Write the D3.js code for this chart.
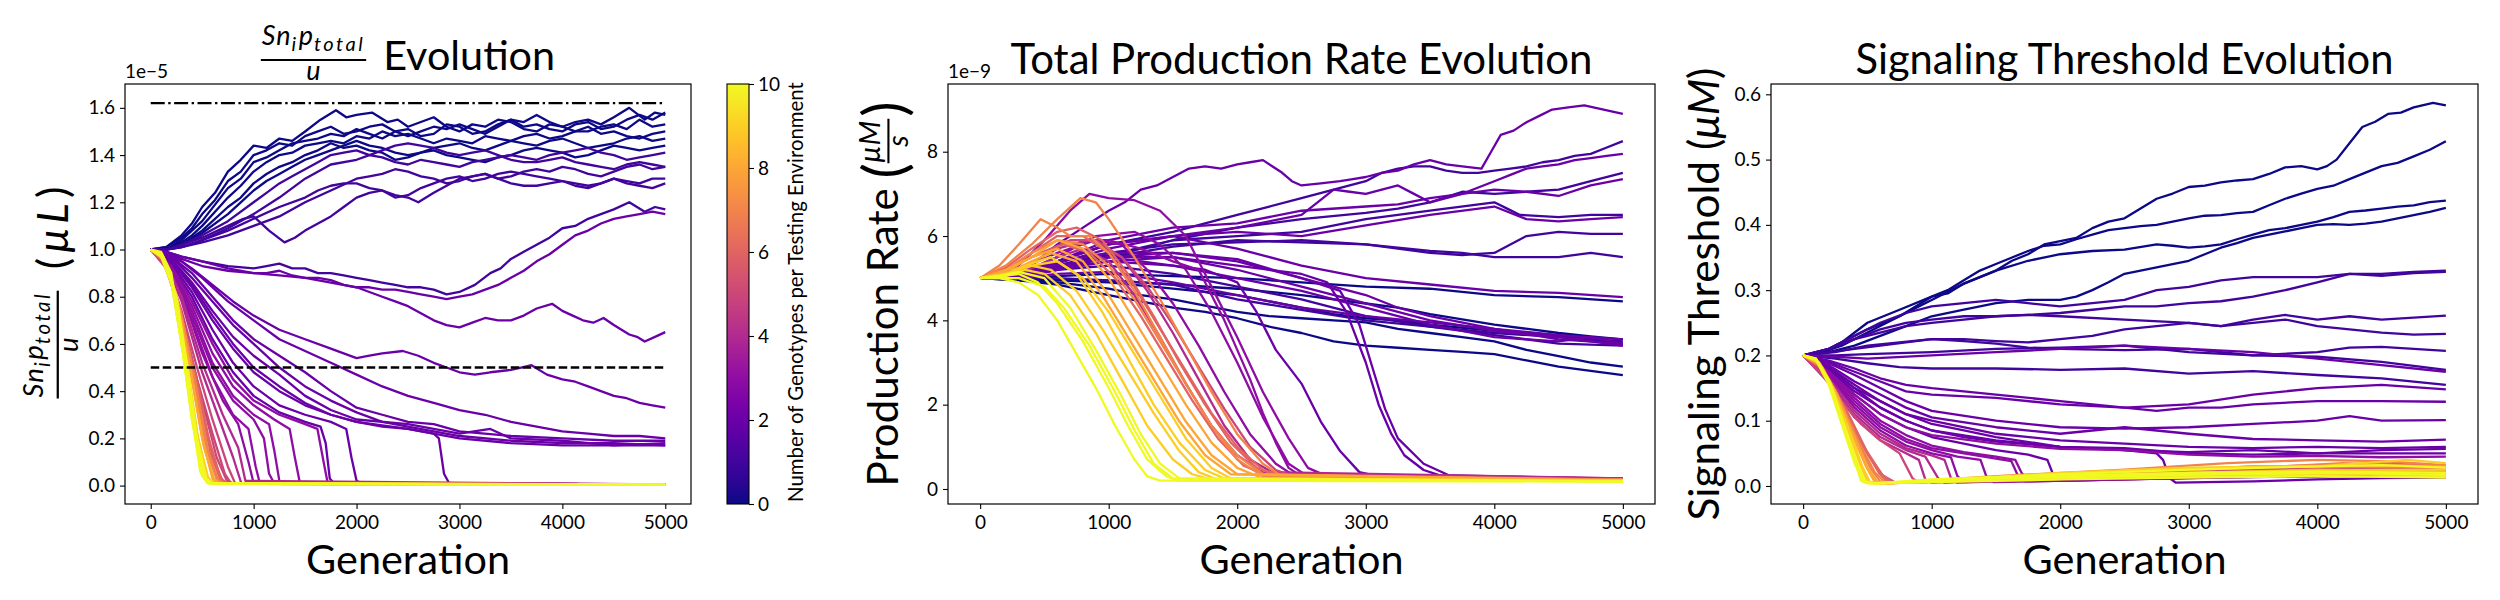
<!DOCTYPE html>
<html>
<head>
<meta charset="utf-8">
<script src="https://cdn.jsdelivr.net/npm/d3@7"></script>
<style>
  body { margin: 0; background: #fff; }
  svg { display: block; }
</style>
</head>
<body>
<div id="chart"></div>
<script>
// shared ticks
const generationTicks = [0, 1000, 2000, 3000, 4000, 5000];
const ratioTicks = [0, 0.2, 0.4, 0.6, 0.8, 1.0, 1.2, 1.4, 1.6];
const rateTicks = [0, 2, 4, 6, 8];
const thresholdTicks = [0, 0.1, 0.2, 0.3, 0.4, 0.5, 0.6];
const colorbarTicks = [0, 2, 4, 6, 8, 10];
const ratioUpperRef = 1.62;
const ratioLowerRef = 0.5;

// each run: [genotypes per testing environment, [[generation, value], ...]]
// panel 1: Sn_i p_total / u, in units of 1e-5
const ratioRuns = [
  [0, [[0,1.0],[150,1.01],[300,1.06],[400,1.11],[500,1.18],[625,1.24],[750,1.33],[875,1.38],[1000,1.44],[1125,1.43],[1250,1.47],[1375,1.46],[1500,1.5],[1650,1.55],[1800,1.59],[1900,1.56],[2000,1.57],[2150,1.58],[2300,1.54],[2400,1.55],[2500,1.52],[2625,1.54],[2750,1.56],[2875,1.52],[3000,1.5],[3125,1.53],[3250,1.52],[3375,1.55],[3500,1.54],[3625,1.51],[3750,1.5],[3875,1.53],[4000,1.52],[4125,1.54],[4250,1.55],[4375,1.53],[4500,1.56],[4650,1.6],[4800,1.55],[4900,1.58],[5000,1.57]]],
  [0, [[0,1.0],[150,1.01],[300,1.05],[400,1.09],[500,1.15],[625,1.21],[750,1.29],[875,1.33],[1000,1.4],[1125,1.42],[1250,1.45],[1375,1.44],[1500,1.48],[1625,1.5],[1750,1.52],[1875,1.49],[2000,1.5],[2125,1.52],[2250,1.53],[2375,1.5],[2500,1.51],[2625,1.48],[2750,1.49],[2875,1.53],[3000,1.52],[3125,1.49],[3250,1.5],[3375,1.53],[3500,1.55],[3625,1.52],[3750,1.53],[3875,1.51],[4000,1.5],[4125,1.53],[4250,1.54],[4375,1.51],[4500,1.52],[4625,1.55],[4750,1.57],[4875,1.55],[5000,1.58]]],
  [0, [[0,1.0],[150,1.0],[300,1.04],[400,1.08],[500,1.12],[625,1.19],[750,1.26],[875,1.3],[1000,1.37],[1125,1.39],[1250,1.42],[1375,1.45],[1500,1.46],[1625,1.47],[1750,1.49],[1875,1.48],[2000,1.51],[2125,1.49],[2250,1.47],[2375,1.5],[2500,1.48],[2625,1.5],[2750,1.52],[2875,1.51],[3000,1.53],[3125,1.51],[3250,1.49],[3375,1.52],[3500,1.55],[3625,1.54],[3750,1.57],[3875,1.54],[4000,1.52],[4125,1.5],[4250,1.5],[4375,1.52],[4500,1.53],[4625,1.51],[4750,1.55],[4875,1.52],[5000,1.53]]],
  [0, [[0,1.0],[150,1.0],[300,1.03],[400,1.06],[500,1.1],[625,1.16],[750,1.22],[875,1.27],[1000,1.33],[1125,1.37],[1250,1.4],[1375,1.41],[1500,1.44],[1625,1.45],[1750,1.46],[1875,1.45],[2000,1.48],[2125,1.47],[2250,1.5],[2375,1.48],[2500,1.49],[2625,1.47],[2750,1.45],[2875,1.47],[3000,1.46],[3125,1.45],[3250,1.48],[3375,1.47],[3500,1.46],[3625,1.48],[3750,1.49],[3875,1.47],[4000,1.48],[4125,1.5],[4250,1.52],[4375,1.49],[4500,1.5],[4625,1.48],[4750,1.47],[4875,1.49],[5000,1.5]]],
  [0, [[0,1.0],[150,1.0],[300,1.02],[500,1.08],[750,1.18],[875,1.22],[1000,1.28],[1125,1.32],[1250,1.35],[1375,1.37],[1500,1.4],[1625,1.42],[1750,1.45],[1875,1.43],[2000,1.44],[2125,1.42],[2250,1.41],[2375,1.38],[2500,1.39],[2625,1.41],[2750,1.43],[2875,1.44],[3000,1.45],[3125,1.43],[3250,1.42],[3375,1.44],[3500,1.46],[3625,1.45],[3750,1.44],[3875,1.46],[4000,1.47],[4125,1.45],[4250,1.43],[4375,1.44],[4500,1.45],[4625,1.47],[4750,1.48],[4875,1.46],[5000,1.47]]],
  [0, [[0,1.0],[150,1.0],[300,1.02],[500,1.07],[750,1.15],[875,1.2],[1000,1.25],[1125,1.29],[1250,1.32],[1375,1.35],[1500,1.38],[1625,1.4],[1750,1.42],[1875,1.44],[2000,1.46],[2125,1.44],[2250,1.43],[2375,1.41],[2500,1.4],[2625,1.41],[2750,1.42],[2875,1.4],[3000,1.39],[3125,1.38],[3250,1.37],[3375,1.39],[3500,1.4],[3625,1.42],[3750,1.43],[3875,1.42],[4000,1.41],[4125,1.39],[4250,1.4],[4375,1.42],[4500,1.44],[4625,1.43],[4750,1.42],[4875,1.43],[5000,1.44]]],
  [1, [[0,1.0],[150,1.0],[300,1.02],[500,1.06],[750,1.12],[1000,1.2],[1125,1.24],[1250,1.28],[1375,1.31],[1500,1.34],[1625,1.37],[1750,1.4],[1875,1.41],[2000,1.42],[2125,1.4],[2250,1.39],[2375,1.37],[2500,1.36],[2625,1.38],[2750,1.37],[2875,1.36],[3000,1.35],[3125,1.37],[3250,1.38],[3375,1.39],[3500,1.4],[3625,1.39],[3750,1.38],[3875,1.4],[4000,1.41],[4125,1.42],[4250,1.43],[4375,1.41],[4500,1.4],[4625,1.38],[4750,1.39],[4875,1.4],[5000,1.41]]],
  [1, [[0,1.0],[150,1.0],[300,1.02],[500,1.05],[750,1.1],[900,1.13],[1000,1.14],[1150,1.08],[1300,1.03],[1400,1.05],[1500,1.08],[1625,1.11],[1750,1.14],[1875,1.18],[2000,1.22],[2125,1.24],[2250,1.25],[2375,1.22],[2500,1.23],[2625,1.26],[2750,1.28],[2875,1.3],[3000,1.31],[3125,1.29],[3250,1.3],[3375,1.32],[3500,1.33],[3625,1.32],[3750,1.31],[3875,1.3],[4000,1.29],[4125,1.28],[4250,1.27],[4375,1.28],[4500,1.3],[4625,1.29],[4750,1.28],[4875,1.3],[5000,1.3]]],
  [1, [[0,1.0],[150,1.0],[300,1.01],[500,1.04],[750,1.08],[1000,1.13],[1250,1.18],[1500,1.22],[1625,1.25],[1750,1.27],[1875,1.28],[2000,1.28],[2125,1.26],[2250,1.25],[2375,1.23],[2500,1.22],[2600,1.2],[2750,1.24],[2875,1.27],[3000,1.3],[3125,1.31],[3250,1.32],[3375,1.3],[3500,1.31],[3625,1.33],[3750,1.34],[3875,1.33],[4000,1.35],[4125,1.34],[4250,1.32],[4375,1.31],[4500,1.33],[4625,1.35],[4750,1.36],[4875,1.34],[5000,1.35]]],
  [1, [[0,1.0],[150,1.0],[300,1.01],[500,1.03],[750,1.06],[1000,1.1],[1250,1.14],[1500,1.2],[1750,1.25],[2000,1.3],[2125,1.31],[2250,1.32],[2375,1.34],[2500,1.33],[2625,1.31],[2750,1.3],[2875,1.28],[3000,1.29],[3125,1.31],[3250,1.32],[3375,1.3],[3500,1.28],[3625,1.27],[3750,1.27],[3875,1.28],[4000,1.29],[4125,1.27],[4250,1.26],[4375,1.28],[4500,1.3],[4625,1.28],[4750,1.27],[4875,1.26],[5000,1.28]]],
  [1, [[0,1.0],[150,1.0],[300,1.01],[500,1.04],[750,1.09],[1000,1.15],[1250,1.22],[1500,1.3],[1750,1.36],[2000,1.38],[2125,1.4],[2250,1.42],[2375,1.44],[2500,1.45],[2625,1.44],[2750,1.43],[2875,1.41],[3000,1.4],[3125,1.41],[3250,1.42],[3375,1.4],[3500,1.38],[3625,1.37],[3750,1.37],[3875,1.38],[4000,1.39],[4125,1.37],[4250,1.36],[4375,1.35],[4500,1.34],[4625,1.36],[4750,1.37],[4875,1.36],[5000,1.35]]],
  [1, [[0,1.0],[150,0.99],[300,0.97],[500,0.95],[750,0.93],[1000,0.92],[1125,0.93],[1250,0.94],[1375,0.92],[1500,0.92],[1625,0.9],[1750,0.9],[1875,0.89],[2000,0.88],[2125,0.87],[2250,0.86],[2375,0.85],[2500,0.84],[2625,0.84],[2750,0.83],[2875,0.81],[3000,0.82],[3150,0.85],[3300,0.9],[3400,0.92],[3500,0.96],[3625,0.99],[3750,1.02],[3875,1.05],[4000,1.09],[4125,1.1],[4250,1.13],[4375,1.15],[4500,1.17],[4650,1.2],[4800,1.16],[4900,1.18],[5000,1.17]]],
  [2, [[0,1.0],[150,0.99],[300,0.97],[500,0.95],[750,0.92],[1000,0.9],[1125,0.9],[1250,0.91],[1375,0.89],[1500,0.88],[1625,0.88],[1750,0.87],[1875,0.85],[2000,0.84],[2125,0.84],[2250,0.83],[2375,0.83],[2500,0.82],[2625,0.81],[2750,0.8],[2875,0.79],[3000,0.8],[3125,0.81],[3250,0.83],[3375,0.85],[3500,0.88],[3625,0.91],[3750,0.95],[3875,0.98],[4000,1.02],[4125,1.06],[4250,1.08],[4375,1.11],[4500,1.13],[4625,1.14],[4750,1.15],[4875,1.16],[5000,1.15]]],
  [2, [[0,1.0],[150,0.99],[300,0.96],[500,0.93],[750,0.91],[1000,0.9],[1250,0.89],[1500,0.88],[1750,0.86],[2000,0.84],[2125,0.82],[2250,0.8],[2375,0.78],[2500,0.76],[2625,0.73],[2750,0.7],[2875,0.68],[3000,0.67],[3125,0.69],[3250,0.71],[3375,0.7],[3500,0.7],[3625,0.72],[3750,0.75],[3900,0.77],[4000,0.74],[4100,0.72],[4200,0.7],[4300,0.69],[4400,0.71],[4500,0.68],[4575,0.66],[4650,0.64],[4725,0.63],[4800,0.61],[4900,0.63],[5000,0.65]]],
  [2, [[0,1.0],[200,0.98],[400,0.92],[600,0.85],[800,0.78],[1000,0.72],[1250,0.66],[1500,0.62],[1750,0.58],[2000,0.54],[2125,0.55],[2250,0.56],[2450,0.57],[2600,0.55],[2750,0.52],[2875,0.5],[3000,0.48],[3150,0.47],[3300,0.48],[3500,0.49],[3600,0.5],[3700,0.51],[3850,0.47],[4000,0.45],[4125,0.44],[4250,0.42],[4375,0.4],[4500,0.38],[4625,0.37],[4750,0.35],[4875,0.34],[5000,0.33]]],
  [2, [[0,1.0],[300,0.95],[500,0.88],[750,0.78],[1000,0.7],[1250,0.62],[1500,0.57],[1750,0.52],[2000,0.47],[2250,0.42],[2500,0.38],[2750,0.35],[3000,0.32],[3250,0.3],[3500,0.27],[3750,0.25],[4000,0.23],[4250,0.22],[4500,0.21],[4750,0.21],[5000,0.2]]],
  [2, [[0,1.0],[200,0.97],[400,0.88],[600,0.78],[800,0.68],[1000,0.6],[1250,0.5],[1500,0.42],[1750,0.36],[2000,0.31],[2250,0.27],[2500,0.25],[2750,0.23],[3000,0.21],[3500,0.19],[4000,0.18],[4500,0.18],[5000,0.17]]],
  [2, [[0,1.0],[200,0.96],[400,0.86],[600,0.74],[800,0.63],[1000,0.55],[1250,0.47],[1500,0.38],[1750,0.32],[2000,0.28],[2500,0.26],[3000,0.22],[3300,0.24],[3500,0.2],[4000,0.19],[4500,0.17],[5000,0.18]]],
  [2, [[0,1.0],[200,0.97],[400,0.9],[600,0.8],[800,0.7],[1000,0.62],[1250,0.55],[1500,0.48],[1750,0.4],[2000,0.33],[2250,0.3],[2500,0.27],[2750,0.26],[3000,0.23],[3500,0.21],[4000,0.2],[4500,0.19],[5000,0.19]]],
  [2, [[0,1.0],[200,0.95],[400,0.85],[600,0.72],[800,0.6],[1000,0.5],[1250,0.42],[1500,0.35],[1750,0.3],[2000,0.27],[2500,0.24],[3000,0.2],[3500,0.18],[4000,0.17],[4500,0.17],[5000,0.17]]],
  [2, [[0,1.0],[200,0.95],[400,0.84],[600,0.7],[800,0.58],[1000,0.48],[1250,0.4],[1500,0.34],[1750,0.3],[2000,0.27],[2250,0.25],[2500,0.24],[2750,0.22],[2800,0.2],[2850,0.05],[2900,0.01],[5000,0.005]]],
  [2, [[0,1.0],[200,0.94],[400,0.82],[600,0.66],[800,0.52],[1000,0.42],[1250,0.34],[1500,0.3],[1750,0.27],[1900,0.24],[1950,0.12],[2000,0.02],[2050,0.01],[5000,0.005]]],
  [2, [[0,1.0],[200,0.93],[400,0.8],[600,0.62],[800,0.48],[1000,0.38],[1250,0.31],[1500,0.27],[1650,0.25],[1700,0.18],[1740,0.03],[1780,0.01],[5000,0.005]]],
  [3, [[0,1.0],[200,0.93],[400,0.78],[600,0.6],[800,0.45],[1000,0.36],[1250,0.3],[1500,0.26],[1620,0.24],[1680,0.1],[1720,0.01],[5000,0.005]]],
  [3, [[0,1.0],[200,0.92],[400,0.76],[600,0.56],[800,0.42],[1000,0.34],[1200,0.28],[1350,0.24],[1400,0.12],[1450,0.01],[5000,0.005]]],
  [3, [[0,1.0],[200,0.92],[400,0.74],[600,0.52],[800,0.38],[1000,0.3],[1150,0.26],[1200,0.15],[1250,0.02],[1300,0.01],[5000,0.005]]],
  [3, [[0,1.0],[200,0.91],[400,0.72],[600,0.5],[800,0.36],[1000,0.28],[1100,0.2],[1150,0.05],[1200,0.01],[5000,0.005]]],
  [3, [[0,1.0],[200,0.9],[400,0.7],[600,0.46],[800,0.3],[950,0.24],[1020,0.08],[1060,0.01],[5000,0.005]]],
  [3, [[0,1.0],[150,0.95],[300,0.82],[500,0.56],[700,0.36],[850,0.26],[950,0.1],[1000,0.01],[5000,0.005]]],
  [4, [[0,1.0],[150,0.94],[300,0.8],[500,0.52],[700,0.3],[850,0.16],[920,0.02],[5000,0.005]]],
  [4, [[0,1.0],[150,0.94],[300,0.78],[500,0.48],[650,0.3],[800,0.12],[880,0.01],[5000,0.004]]],
  [5, [[0,1.0],[150,0.93],[300,0.74],[450,0.5],[600,0.28],[750,0.08],[820,0.01],[5000,0.004]]],
  [5, [[0,1.0],[150,0.92],[300,0.72],[450,0.45],[600,0.22],[720,0.05],[780,0.01],[5000,0.004]]],
  [6, [[0,1.0],[100,0.97],[250,0.8],[400,0.52],[550,0.22],[680,0.03],[740,0.01],[5000,0.004]]],
  [10, [[0,1.0],[100,0.99],[200,0.9],[300,0.62],[400,0.3],[480,0.06],[550,0.01],[5000,0.003]]],
  [10, [[0,1.0],[100,0.98],[200,0.88],[300,0.6],[400,0.28],[500,0.05],[560,0.01],[5000,0.004]]],
  [9, [[0,1.0],[100,0.98],[200,0.86],[320,0.55],[420,0.25],[520,0.04],[580,0.01],[5000,0.003]]],
  [9, [[0,1.0],[120,0.97],[220,0.84],[340,0.52],[450,0.22],[550,0.04],[600,0.01],[5000,0.004]]],
  [10, [[0,1.0],[100,0.97],[250,0.8],[350,0.52],[450,0.2],[540,0.03],[600,0.008],[5000,0.003]]],
  [8, [[0,1.0],[120,0.97],[250,0.78],[380,0.5],[500,0.2],[600,0.03],[650,0.008],[5000,0.004]]],
  [8, [[0,1.0],[130,0.96],[270,0.76],[400,0.46],[520,0.16],[620,0.02],[680,0.008],[5000,0.004]]],
  [7, [[0,1.0],[130,0.96],[280,0.74],[420,0.45],[540,0.16],[640,0.03],[700,0.01],[5000,0.005]]],
  [9, [[0,1.0],[110,0.97],[240,0.82],[360,0.5],[460,0.2],[560,0.03],[620,0.01],[5000,0.003]]],
  [7, [[0,1.0],[140,0.95],[300,0.72],[440,0.42],[560,0.14],[660,0.02],[720,0.008],[5000,0.005]]],
  [6, [[0,1.0],[140,0.95],[300,0.7],[460,0.4],[580,0.14],[680,0.02],[740,0.01],[5000,0.005]]],
  [10, [[0,1.0],[100,0.98],[200,0.87],[310,0.57],[410,0.26],[500,0.04],[570,0.008],[5000,0.003]]],
  [9, [[0,1.0],[110,0.98],[230,0.83],[350,0.5],[450,0.22],[540,0.04],[600,0.008],[5000,0.003]]],
  [8, [[0,1.0],[120,0.96],[260,0.79],[390,0.48],[510,0.18],[610,0.03],[670,0.008],[5000,0.004]]],
  [6, [[0,1.0],[150,0.94],[320,0.68],[480,0.38],[600,0.12],[700,0.02],[760,0.008],[5000,0.005]]],
  [7, [[0,1.0],[130,0.96],[290,0.74],[430,0.44],[550,0.15],[650,0.02],[710,0.008],[5000,0.004]]],
  [5, [[0,1.0],[150,0.94],[330,0.66],[500,0.36],[640,0.12],[740,0.02],[800,0.01],[5000,0.005]]],
  [10, [[0,1.0],[100,0.98],[210,0.86],[330,0.52],[430,0.22],[520,0.03],[580,0.008],[5000,0.003]]]
];

// panel 2: total production rate, in units of 1e-9
const rateRuns = [
  [0, [[0,5],[300,4.95],[600,4.85],[1000,4.6],[1250,4.45],[1500,4.3],[1750,4.2],[2000,4.05],[2250,3.85],[2500,3.7],[2750,3.5],[3000,3.4],[3250,3.35],[3500,3.3],[3750,3.25],[4000,3.2],[4250,3.05],[4500,2.9],[4750,2.8],[5000,2.7]]],
  [0, [[0,5],[300,4.95],[600,4.9],[1000,4.75],[1250,4.6],[1500,4.5],[1750,4.35],[2000,4.2],[2250,4.1],[2500,4.05],[2750,4.0],[3000,3.95],[3250,3.8],[3500,3.7],[3750,3.6],[4000,3.5],[4250,3.3],[4500,3.15],[4750,3.0],[5000,2.9]]],
  [0, [[0,5],[300,4.98],[600,4.95],[1000,4.9],[1500,4.75],[2000,4.6],[2250,4.45],[2500,4.3],[2750,4.15],[3000,4.05],[3250,4.0],[3500,3.9],[4000,3.75],[4500,3.65],[4750,3.55],[5000,3.45]]],
  [0, [[0,5],[300,4.98],[600,4.96],[1000,4.95],[1500,4.85],[2000,4.75],[2500,4.6],[3000,4.4],[3250,4.3],[3500,4.15],[4000,3.9],[4500,3.7],[4750,3.62],[5000,3.55]]],
  [0, [[0,5],[300,5.0],[600,5.05],[1000,5.1],[1500,5.05],[2000,5.0],[2500,4.9],[3000,4.8],[3500,4.75],[4000,4.6],[4500,4.55],[5000,4.45]]],
  [2, [[0,5],[200,5.05],[400,5.3],[600,5.8],[800,6.2],[1000,6.6],[1125,6.8],[1250,7.1],[1375,7.2],[1500,7.4],[1625,7.6],[1750,7.65],[1875,7.6],[2000,7.7],[2100,7.75],[2200,7.8],[2275,7.65],[2350,7.5],[2425,7.3],[2500,7.2],[2650,7.25],[2800,7.3],[2900,7.35],[3000,7.4],[3125,7.5],[3250,7.55],[3375,7.7],[3500,7.8],[3625,7.7],[3750,7.65],[3900,7.6],[3975,8.0],[4050,8.4],[4150,8.5],[4250,8.7],[4350,8.85],[4450,9.0],[4575,9.05],[4700,9.1],[4850,9.0],[5000,8.9]]],
  [1, [[0,5],[300,5.1],[600,5.4],[1000,5.8],[1250,5.95],[1500,6.1],[1750,6.3],[2000,6.5],[2250,6.7],[2500,6.9],[2750,7.1],[3000,7.3],[3125,7.5],[3250,7.6],[3375,7.65],[3500,7.65],[3625,7.55],[3750,7.5],[3875,7.5],[4000,7.55],[4125,7.6],[4250,7.65],[4375,7.75],[4500,7.8],[4625,7.9],[4750,7.95],[4875,8.1],[5000,8.25]]],
  [2, [[0,5],[300,5.1],[600,5.35],[1000,5.7],[1250,5.85],[1500,6.0],[1750,6.1],[2000,6.2],[2250,6.35],[2500,6.5],[2625,6.8],[2750,7.1],[2875,7.05],[3000,7.0],[3125,7.1],[3250,7.2],[3375,7.0],[3500,6.8],[3625,6.9],[3750,7.0],[3875,7.15],[4000,7.3],[4125,7.45],[4250,7.6],[4375,7.65],[4500,7.7],[4625,7.8],[4750,7.85],[4875,7.9],[5000,7.95]]],
  [1, [[0,5],[300,5.05],[600,5.3],[1000,5.55],[1500,5.9],[2000,6.2],[2500,6.4],[3000,6.55],[3250,6.65],[3500,6.8],[3750,7.05],[4000,7.0],[4250,7.05],[4500,7.1],[4750,7.3],[5000,7.5]]],
  [2, [[0,5],[300,5.1],[600,5.4],[1000,5.9],[1500,6.2],[2000,6.3],[2500,6.6],[3000,6.7],[3250,6.75],[3500,6.9],[4000,7.1],[4250,7.05],[4500,6.95],[4750,7.2],[5000,7.35]]],
  [1, [[0,5],[300,5.05],[600,5.2],[1000,5.5],[1500,5.9],[2000,6.0],[2500,6.1],[3000,6.4],[3500,6.6],[4000,6.8],[4100,6.65],[4200,6.5],[4500,6.45],[4750,6.5],[5000,6.5]]],
  [2, [[0,5],[300,5.1],[600,5.4],[1000,5.8],[1500,6.0],[2000,6.1],[2500,6.0],[3000,6.25],[3500,6.5],[4000,6.7],[4250,6.4],[4500,6.35],[4750,6.4],[5000,6.45]]],
  [1, [[0,5],[300,5.05],[600,5.3],[1000,5.6],[1500,5.8],[2000,5.85],[2500,5.9],[3000,5.8],[3500,5.6],[3750,5.55],[4000,5.6],[4250,6.0],[4500,6.1],[4750,6.05],[5000,6.05]]],
  [1, [[0,5],[300,5.05],[600,5.25],[1000,5.5],[1500,5.75],[2000,5.9],[2500,5.85],[3000,5.8],[3500,5.65],[3750,5.6],[4000,5.5],[4500,5.5],[4750,5.6],[5000,5.5]]],
  [2, [[0,5],[300,5.1],[600,5.4],[1000,5.8],[1500,6.0],[2000,5.7],[2500,5.3],[3000,5.0],[3500,4.85],[4000,4.7],[4500,4.65],[5000,4.55]]],
  [1, [[0,5],[300,5.05],[600,5.2],[1000,5.3],[1500,5.1],[2000,4.8],[2500,4.5],[3000,4.1],[3500,3.85],[4000,3.7],[4500,3.6],[5000,3.5]]],
  [2, [[0,5],[300,5.0],[600,5.1],[1000,5.15],[1500,4.9],[2000,4.6],[2500,4.3],[3000,4.1],[3500,3.95],[4000,3.8],[4500,3.55],[5000,3.45]]],
  [2, [[0,5],[300,5.05],[600,5.3],[1000,5.5],[1500,5.5],[2000,5.2],[2500,4.8],[3000,4.4],[3500,4.0],[4000,3.75],[4500,3.6],[5000,3.4]]],
  [2, [[0,5],[300,5.1],[600,5.4],[1000,5.6],[1500,5.6],[2000,5.4],[2500,5.0],[3000,4.6],[3250,4.3],[3500,4.1],[4000,3.8],[4500,3.65],[5000,3.55]]],
  [1, [[0,5],[300,5.0],[600,5.0],[1000,4.95],[1500,4.85],[2000,4.5],[2500,4.25],[3000,4.0],[3500,3.85],[4000,3.65],[4500,3.45],[5000,3.4]]],
  [2, [[0,5],[300,5.05],[600,5.25],[1000,5.4],[1500,5.3],[2000,5.0],[2500,4.7],[3000,4.3],[3500,3.9],[4000,3.6],[4500,3.5],[4750,3.6],[5000,3.45]]],
  [3, [[0,5],[300,5.1],[600,5.5],[800,5.9],[1000,5.9],[1250,5.7],[1500,5.4],[1700,5.2],[1800,4.6],[1900,4.0],[2000,3.3],[2100,2.6],[2200,1.8],[2300,1.1],[2400,0.5],[2500,0.3],[5000,0.25]]],
  [2, [[0,5],[300,5.05],[600,5.3],[1000,5.5],[1500,5.3],[1750,5.2],[2000,4.9],[2150,4.2],[2300,3.3],[2500,2.5],[2650,1.6],[2800,0.9],[2950,0.4],[3100,0.3],[5000,0.22]]],
  [2, [[0,5],[300,5.0],[600,5.2],[1000,5.4],[1500,5.5],[2000,5.3],[2500,5.1],[2700,4.9],[2850,4.2],[3000,3.0],[3100,2.0],[3200,1.3],[3300,0.8],[3450,0.45],[3600,0.3],[5000,0.22]]],
  [2, [[0,5],[300,5.05],[600,5.25],[1000,5.5],[1500,5.6],[2000,5.45],[2500,5.0],[2800,4.7],[2950,3.9],[3050,2.9],[3150,1.9],[3250,1.2],[3450,0.6],[3650,0.32],[5000,0.24]]],
  [3, [[0,5],[300,5.1],[600,5.5],[900,6.0],[1200,6.1],[1400,5.8],[1600,5.2],[1800,4.2],[2000,3.0],[2200,1.7],[2400,0.6],[2550,0.3],[5000,0.25]]],
  [3, [[0,5],[300,5.3],[500,5.9],[700,6.6],[850,7.0],[1000,6.9],[1200,6.85],[1400,6.6],[1600,6.0],[1800,4.8],[2000,3.6],[2200,2.3],[2400,1.2],[2550,0.5],[2700,0.3],[5000,0.25]]],
  [3, [[0,5],[300,5.2],[600,5.6],[900,5.9],[1100,5.8],[1300,5.2],[1500,4.4],[1700,3.4],[1900,2.3],[2100,1.3],[2300,0.6],[2450,0.3],[5000,0.25]]],
  [4, [[0,5],[300,5.2],[600,5.7],[850,5.9],[1100,5.5],[1300,4.7],[1500,3.7],[1700,2.6],[1900,1.5],[2100,0.7],[2300,0.35],[5000,0.25]]],
  [4, [[0,5],[300,5.1],[600,5.5],[800,5.7],[1000,5.4],[1200,4.6],[1400,3.6],[1600,2.5],[1800,1.5],[2000,0.8],[2200,0.4],[5000,0.25]]],
  [7, [[0,5],[200,5.3],[400,5.8],[600,6.4],[780,6.9],[900,6.8],[1000,6.4],[1200,5.5],[1400,4.5],[1600,3.4],[1800,2.3],[2000,1.3],[2200,0.6],[2350,0.3],[5000,0.22]]],
  [7, [[0,5],[150,5.3],[300,5.8],[470,6.4],[600,6.2],[700,6.0],[850,6.0],[1000,5.6],[1200,4.7],[1400,3.6],[1600,2.5],[1800,1.5],[2000,0.7],[2200,0.3],[5000,0.2]]],
  [6, [[0,5],[200,5.2],[400,5.6],[600,6.0],[800,6.0],[1000,5.6],[1200,4.8],[1400,3.8],[1600,2.8],[1800,1.8],[2000,1.0],[2200,0.45],[2400,0.28],[5000,0.22]]],
  [8, [[0,5],[200,5.15],[400,5.5],[600,5.9],[800,5.7],[1000,5.0],[1200,4.0],[1400,3.0],[1600,2.0],[1800,1.1],[2000,0.5],[2200,0.25],[5000,0.2]]],
  [6, [[0,5],[200,5.2],[400,5.5],[650,5.8],[850,5.6],[1050,5.0],[1250,4.1],[1450,3.1],[1650,2.1],[1850,1.2],[2050,0.55],[2250,0.3],[5000,0.22]]],
  [8, [[0,5],[200,5.1],[400,5.4],[550,5.6],[750,5.4],[950,4.6],[1150,3.6],[1350,2.6],[1550,1.6],[1750,0.8],[1950,0.35],[5000,0.2]]],
  [9, [[0,5],[200,5.1],[400,5.35],[550,5.5],[750,5.1],[950,4.2],[1150,3.1],[1350,2.0],[1550,1.1],[1750,0.45],[1900,0.25],[5000,0.2]]],
  [9, [[0,5],[200,5.05],[350,5.2],[500,5.1],[700,4.6],[900,3.7],[1100,2.6],[1300,1.5],[1500,0.7],[1650,0.35],[1800,0.22],[5000,0.2]]],
  [10, [[0,5],[150,5.0],[300,4.9],[450,4.6],[600,4.0],[750,3.2],[900,2.4],[1050,1.5],[1200,0.7],[1300,0.3],[1400,0.2],[5000,0.18]]],
  [10, [[0,5],[150,5.05],[300,5.1],[450,4.9],[600,4.4],[800,3.5],[1000,2.4],[1150,1.5],[1300,0.7],[1450,0.3],[1550,0.2],[5000,0.18]]],
  [9, [[0,5],[200,5.1],[400,5.3],[550,5.2],[750,4.7],[950,3.8],[1150,2.8],[1350,1.8],[1550,0.9],[1700,0.4],[1850,0.22],[5000,0.2]]],
  [8, [[0,5],[200,5.2],[400,5.5],[600,5.7],[800,5.4],[1000,4.6],[1200,3.6],[1400,2.6],[1600,1.6],[1800,0.8],[2000,0.35],[5000,0.2]]],
  [7, [[0,5],[200,5.2],[400,5.6],[600,5.9],[800,5.8],[1000,5.3],[1200,4.5],[1400,3.5],[1600,2.5],[1800,1.5],[2000,0.8],[2200,0.35],[5000,0.22]]],
  [10, [[0,5],[150,5.05],[300,5.15],[500,5.0],[700,4.3],[900,3.3],[1100,2.2],[1250,1.3],[1400,0.6],[1550,0.25],[5000,0.18]]],
  [6, [[0,5],[200,5.25],[400,5.7],[600,6.1],[750,6.2],[950,5.9],[1150,5.1],[1350,4.1],[1550,3.0],[1750,2.0],[1950,1.1],[2150,0.5],[2350,0.28],[5000,0.22]]],
  [5, [[0,5],[200,5.2],[400,5.5],[700,5.9],[900,5.9],[1100,5.5],[1300,4.8],[1500,3.9],[1700,2.9],[1900,1.9],[2100,1.0],[2300,0.45],[2450,0.28],[5000,0.22]]],
  [9, [[0,5],[200,5.1],[400,5.3],[600,5.4],[800,5.0],[1000,4.2],[1200,3.2],[1400,2.2],[1600,1.2],[1800,0.5],[1950,0.25],[5000,0.2]]],
  [10, [[0,5],[150,5.0],[300,5.0],[500,4.8],[650,4.3],[850,3.4],[1050,2.3],[1200,1.4],[1350,0.6],[1500,0.25],[5000,0.18]]]
];

// panel 3: signaling threshold, uM
const thresholdRuns = [
  [0, [[0,0.2],[150,0.205],[300,0.22],[500,0.25],[750,0.27],[1000,0.29],[1125,0.295],[1250,0.31],[1375,0.32],[1500,0.33],[1625,0.345],[1750,0.355],[1875,0.37],[2000,0.375],[2125,0.38],[2250,0.395],[2375,0.405],[2500,0.41],[2625,0.425],[2750,0.44],[2875,0.448],[3000,0.458],[3125,0.46],[3250,0.465],[3375,0.468],[3500,0.47],[3625,0.478],[3750,0.488],[3875,0.49],[4000,0.485],[4075,0.49],[4150,0.5],[4250,0.525],[4350,0.55],[4450,0.558],[4550,0.57],[4650,0.572],[4750,0.58],[4900,0.587],[5000,0.583]]],
  [0, [[0,0.2],[150,0.205],[300,0.22],[500,0.24],[750,0.26],[1000,0.29],[1125,0.3],[1250,0.315],[1375,0.33],[1500,0.34],[1625,0.35],[1750,0.36],[1875,0.368],[2000,0.37],[2125,0.378],[2250,0.385],[2375,0.392],[2500,0.395],[2625,0.398],[2750,0.4],[2875,0.405],[3000,0.41],[3125,0.414],[3250,0.415],[3375,0.418],[3500,0.42],[3625,0.43],[3750,0.44],[3875,0.448],[4000,0.455],[4125,0.46],[4250,0.47],[4375,0.48],[4500,0.49],[4625,0.495],[4750,0.505],[4875,0.515],[5000,0.528]]],
  [0, [[0,0.2],[150,0.205],[300,0.215],[500,0.235],[750,0.26],[1000,0.285],[1250,0.31],[1500,0.33],[1750,0.345],[2000,0.355],[2250,0.36],[2500,0.362],[2750,0.37],[2875,0.368],[3000,0.365],[3125,0.367],[3250,0.37],[3375,0.378],[3500,0.385],[3625,0.392],[3750,0.395],[3875,0.4],[4000,0.405],[4125,0.412],[4250,0.42],[4375,0.422],[4500,0.425],[4625,0.428],[4750,0.43],[4875,0.435],[5000,0.437]]],
  [0, [[0,0.2],[200,0.205],[400,0.215],[600,0.23],[800,0.245],[1000,0.26],[1250,0.27],[1500,0.28],[1750,0.285],[2000,0.285],[2125,0.29],[2250,0.3],[2375,0.312],[2500,0.325],[2625,0.33],[2750,0.335],[2875,0.34],[3000,0.345],[3125,0.355],[3250,0.365],[3375,0.372],[3500,0.38],[3625,0.385],[3750,0.39],[3875,0.395],[4000,0.4],[4125,0.401],[4250,0.4],[4375,0.402],[4500,0.405],[4625,0.41],[4750,0.415],[4875,0.42],[5000,0.426]]],
  [1, [[0,0.2],[200,0.21],[400,0.23],[600,0.25],[800,0.265],[1000,0.275],[1250,0.28],[1500,0.285],[1750,0.28],[2000,0.275],[2250,0.28],[2500,0.285],[2750,0.3],[3000,0.305],[3250,0.315],[3500,0.32],[3750,0.32],[4000,0.32],[4250,0.325],[4500,0.325],[4750,0.328],[5000,0.33]]],
  [1, [[0,0.2],[200,0.21],[400,0.225],[600,0.24],[800,0.25],[1000,0.255],[1250,0.26],[1500,0.26],[1750,0.262],[2000,0.265],[2250,0.27],[2500,0.275],[2750,0.275],[3000,0.28],[3250,0.283],[3500,0.29],[3750,0.3],[4000,0.312],[4250,0.325],[4500,0.322],[4750,0.326],[5000,0.328]]],
  [1, [[0,0.2],[200,0.21],[400,0.225],[600,0.235],[800,0.245],[1000,0.25],[1250,0.255],[1500,0.26],[1750,0.262],[2000,0.26],[2500,0.255],[3000,0.25],[3250,0.245],[3500,0.255],[3750,0.262],[4000,0.255],[4250,0.26],[4500,0.255],[4750,0.258],[5000,0.261]]],
  [1, [[0,0.2],[200,0.205],[400,0.21],[600,0.215],[800,0.22],[1000,0.225],[1250,0.225],[1500,0.222],[1750,0.22],[2000,0.225],[2250,0.23],[2500,0.24],[2750,0.245],[3000,0.25],[3250,0.245],[3500,0.25],[3750,0.255],[4000,0.245],[4250,0.24],[4500,0.235],[4750,0.232],[5000,0.233]]],
  [1, [[0,0.2],[250,0.205],[500,0.215],[750,0.22],[1000,0.225],[1250,0.222],[1500,0.218],[1750,0.212],[2000,0.21],[2500,0.208],[3000,0.21],[3250,0.205],[3500,0.2],[4000,0.205],[4250,0.212],[4500,0.213],[4750,0.21],[5000,0.207]]],
  [1, [[0,0.2],[250,0.2],[500,0.202],[1000,0.205],[1500,0.21],[2000,0.212],[2500,0.215],[3000,0.205],[3500,0.2],[4000,0.198],[4500,0.19],[5000,0.178]]],
  [2, [[0,0.2],[250,0.198],[500,0.195],[1000,0.2],[1500,0.205],[2000,0.21],[2500,0.215],[3000,0.21],[3500,0.205],[4000,0.195],[4500,0.185],[5000,0.175]]],
  [1, [[0,0.2],[250,0.195],[500,0.188],[750,0.182],[1000,0.18],[1500,0.18],[2000,0.178],[2500,0.18],[3000,0.172],[3500,0.176],[4000,0.17],[4500,0.165],[5000,0.155]]],
  [2, [[0,0.2],[200,0.192],[400,0.18],[600,0.165],[800,0.155],[1000,0.15],[1500,0.14],[2000,0.13],[2500,0.12],[3000,0.125],[3500,0.14],[4000,0.15],[4500,0.155],[5000,0.148]]],
  [2, [[0,0.2],[200,0.19],[400,0.175],[600,0.16],[800,0.145],[1000,0.14],[1500,0.135],[2000,0.125],[2500,0.12],[2750,0.115],[3000,0.12],[3250,0.12],[3500,0.125],[4000,0.13],[4500,0.13],[5000,0.129]]],
  [2, [[0,0.2],[200,0.188],[400,0.17],[600,0.15],[800,0.13],[1000,0.115],[1500,0.1],[2000,0.09],[2500,0.088],[3000,0.09],[3500,0.095],[4000,0.1],[4250,0.107],[4500,0.1],[5000,0.101]]],
  [2, [[0,0.2],[200,0.185],[400,0.16],[600,0.14],[800,0.12],[1000,0.105],[1500,0.09],[2000,0.08],[2500,0.09],[3000,0.08],[3500,0.072],[4000,0.07],[4500,0.068],[5000,0.071]]],
  [2, [[0,0.2],[200,0.18],[400,0.15],[600,0.13],[800,0.11],[1000,0.095],[1250,0.085],[1500,0.075],[2000,0.06],[2500,0.055],[3000,0.052],[3500,0.055],[4000,0.05],[4500,0.055],[5000,0.057]]],
  [2, [[0,0.2],[200,0.178],[400,0.145],[600,0.12],[800,0.1],[1000,0.085],[1250,0.075],[1500,0.068],[2000,0.06],[2500,0.058],[3000,0.05],[3500,0.048],[4000,0.05],[4500,0.05],[5000,0.05]]],
  [3, [[0,0.2],[200,0.175],[400,0.14],[600,0.11],[800,0.09],[1000,0.078],[1500,0.065],[2000,0.057],[2500,0.055],[3000,0.048],[3500,0.045],[4000,0.046],[4500,0.044],[5000,0.045]]],
  [2, [[0,0.2],[200,0.182],[400,0.155],[600,0.13],[800,0.11],[1000,0.1],[1500,0.08],[2000,0.07],[2500,0.065],[3000,0.06],[3500,0.058],[4000,0.06],[4500,0.058],[5000,0.06]]],
  [2, [[0,0.2],[200,0.18],[400,0.15],[600,0.12],[800,0.1],[1000,0.085],[1500,0.07],[2000,0.06],[2500,0.055],[2750,0.05],[2800,0.04],[2850,0.012],[2900,0.005],[3500,0.007],[4000,0.01],[4500,0.012],[5000,0.013]]],
  [2, [[0,0.2],[200,0.178],[400,0.14],[600,0.11],[800,0.09],[1000,0.075],[1250,0.065],[1500,0.055],[1750,0.048],[1900,0.04],[1950,0.015],[2000,0.008],[2500,0.01],[3000,0.012],[4000,0.015],[5000,0.018]]],
  [3, [[0,0.2],[200,0.175],[400,0.135],[600,0.1],[800,0.078],[1000,0.062],[1250,0.052],[1500,0.045],[1650,0.04],[1700,0.02],[1750,0.008],[2500,0.012],[3500,0.016],[5000,0.02]]],
  [3, [[0,0.2],[200,0.172],[400,0.13],[600,0.095],[800,0.072],[1000,0.058],[1250,0.05],[1500,0.042],[1620,0.038],[1680,0.012],[1730,0.007],[2500,0.01],[3500,0.014],[5000,0.017]]],
  [3, [[0,0.2],[200,0.17],[400,0.125],[600,0.09],[800,0.068],[1000,0.055],[1200,0.045],[1380,0.04],[1430,0.012],[1480,0.006],[2500,0.01],[3500,0.015],[5000,0.02]]],
  [3, [[0,0.2],[200,0.168],[400,0.12],[600,0.085],[800,0.062],[1000,0.05],[1150,0.044],[1200,0.015],[1250,0.006],[2000,0.01],[3000,0.015],[4000,0.02],[5000,0.022]]],
  [4, [[0,0.2],[200,0.165],[400,0.115],[600,0.08],[800,0.058],[1000,0.047],[1100,0.04],[1150,0.012],[1200,0.005],[2000,0.01],[3000,0.016],[4000,0.02],[5000,0.025]]],
  [4, [[0,0.2],[200,0.16],[400,0.11],[600,0.075],[800,0.055],[950,0.045],[1050,0.012],[1100,0.005],[2000,0.012],[3000,0.018],[4000,0.022],[5000,0.025]]],
  [4, [[0,0.2],[200,0.158],[400,0.105],[600,0.07],[800,0.05],[900,0.04],[950,0.01],[1000,0.005],[2000,0.012],[3000,0.02],[4000,0.025],[5000,0.028]]],
  [5, [[0,0.2],[150,0.17],[300,0.13],[450,0.095],[600,0.07],[750,0.05],[850,0.012],[900,0.005],[2000,0.013],[3000,0.02],[4000,0.03],[4500,0.035],[5000,0.03]]],
  [10, [[0,0.2],[100,0.195],[200,0.16],[300,0.1],[400,0.04],[450,0.008],[500,0.004],[1000,0.008],[1500,0.012],[2000,0.016],[3000,0.02],[4000,0.022],[5000,0.02]]],
  [10, [[0,0.2],[100,0.193],[200,0.155],[300,0.095],[400,0.035],[470,0.006],[550,0.004],[1000,0.01],[2000,0.018],[3000,0.025],[4000,0.03],[4500,0.032],[5000,0.028]]],
  [9, [[0,0.2],[120,0.19],[230,0.15],[340,0.09],[440,0.035],[500,0.007],[560,0.004],[1000,0.007],[2000,0.014],[3000,0.02],[4000,0.024],[5000,0.025]]],
  [9, [[0,0.2],[120,0.19],[240,0.145],[360,0.085],[460,0.03],[520,0.006],[600,0.004],[1200,0.01],[2000,0.02],[3000,0.028],[4000,0.03],[4700,0.04],[5000,0.035]]],
  [8, [[0,0.2],[130,0.188],[260,0.14],[380,0.08],[490,0.03],[560,0.006],[650,0.004],[1200,0.009],[2000,0.015],[3000,0.02],[4000,0.025],[5000,0.022]]],
  [8, [[0,0.2],[130,0.186],[270,0.135],[400,0.075],[510,0.025],[580,0.006],[680,0.004],[1500,0.012],[2500,0.022],[3500,0.03],[4500,0.03],[5000,0.03]]],
  [7, [[0,0.2],[140,0.184],[290,0.13],[420,0.07],[530,0.025],[600,0.007],[700,0.005],[1500,0.015],[2500,0.025],[3300,0.035],[4000,0.04],[4500,0.038],[5000,0.032]]],
  [7, [[0,0.2],[150,0.182],[300,0.125],[440,0.065],[560,0.02],[640,0.006],[750,0.005],[1500,0.012],[2500,0.02],[3500,0.028],[4200,0.035],[5000,0.03]]],
  [6, [[0,0.2],[150,0.18],[320,0.12],[470,0.06],[590,0.02],[660,0.006],[780,0.005],[1500,0.013],[2500,0.02],[3500,0.03],[4500,0.028],[5000,0.025]]],
  [6, [[0,0.2],[160,0.178],[340,0.115],[490,0.055],[610,0.018],[690,0.006],[800,0.005],[2000,0.015],[3000,0.025],[4000,0.032],[5000,0.028]]],
  [10, [[0,0.2],[100,0.194],[210,0.158],[310,0.098],[420,0.036],[480,0.007],[560,0.004],[1200,0.01],[2200,0.014],[3200,0.018],[4200,0.02],[5000,0.017]]],
  [9, [[0,0.2],[110,0.19],[230,0.148],[350,0.088],[450,0.032],[510,0.006],[580,0.004],[1300,0.008],[2300,0.012],[3300,0.016],[4300,0.018],[5000,0.015]]],
  [5, [[0,0.2],[160,0.176],[340,0.11],[500,0.05],[620,0.016],[710,0.006],[820,0.005],[2000,0.014],[3000,0.022],[4000,0.028],[5000,0.025]]],
  [8, [[0,0.2],[130,0.187],[260,0.142],[380,0.082],[490,0.03],[560,0.006],[660,0.004],[1500,0.01],[2500,0.016],[3500,0.02],[4500,0.024],[5000,0.02]]],
  [10, [[0,0.2],[100,0.195],[200,0.162],[300,0.105],[400,0.042],[460,0.008],[520,0.004],[1000,0.006],[2000,0.01],[3000,0.013],[4000,0.015],[5000,0.013]]]
];

(function () {
  "use strict";

  const FONT = "Lato, 'Open Sans', sans-serif";
  const TOP = 84;
  const BOTTOM = 504;
  const BIG = 42;
  const TICK = 19;
  const color = d3.scaleSequential(d3.interpolatePlasma).domain([0, 10]);

  const svg = d3.select("#chart").append("svg")
    .attr("width", 2500)
    .attr("height", 600)
    .attr("font-family", FONT)
    .style("background", "#fff");

  // scale a text's font so that it spans the given length
  function fitText(sel, length) {
    const w = sel.node().getComputedTextLength();
    if (w > 0) sel.attr("font-size", (+sel.attr("font-size")) * length / w);
    return sel;
  }

  function drawRuns(g, runs, x, y) {
    const line = d3.line().x((d) => x(d[0])).y((d) => y(d[1]));
    const ordered = runs
      .map((r, i) => ({ n: r[0], pts: r[1], i }))
      .sort((a, b) => a.n - b.n || a.i - b.i);
    g.append("g")
      .selectAll("path")
      .data(ordered)
      .join("path")
      .attr("fill", "none")
      .attr("stroke", (d) => color(d.n))
      .attr("stroke-width", 2.3)
      .attr("stroke-linejoin", "round")
      .attr("d", (d) => line(d.pts));
  }

  function styleAxis(a) {
    a.select(".domain").remove();
    a.attr("font-family", FONT).attr("font-size", TICK);
    a.selectAll("line").attr("stroke", "#000").attr("stroke-width", 1.1);
    a.selectAll("text").attr("fill", "#000");
  }

  function drawPanel(p) {
    const g = svg.append("g");
    const x = d3.scaleLinear().domain([-250, 5250]).range([p.left, p.right]);
    const y = d3.scaleLinear().domain(p.yDomain).range([BOTTOM, TOP]);

    drawRuns(g, p.runs, x, y);
    if (p.after) p.after(g, x, y);

    const xa = g.append("g")
      .attr("transform", `translate(0,${BOTTOM})`)
      .call(d3.axisBottom(x).tickValues(generationTicks).tickFormat(d3.format("d")).tickSize(5).tickPadding(7));
    styleAxis(xa);
    const ya = g.append("g")
      .attr("transform", `translate(${p.left},0)`)
      .call(d3.axisLeft(y).tickValues(p.yTicks).tickFormat(p.yFormat).tickSize(5).tickPadding(5));
    styleAxis(ya);

    g.append("rect")
      .attr("x", p.left).attr("y", TOP)
      .attr("width", p.right - p.left).attr("height", BOTTOM - TOP)
      .attr("fill", "none").attr("stroke", "#000").attr("stroke-width", 1.2);

    fitText(g.append("text")
      .attr("x", (p.left + p.right) / 2).attr("y", 574)
      .attr("text-anchor", "middle").attr("font-size", BIG)
      .text("Generation"), 204);

    if (p.title) {
      fitText(g.append("text")
        .attr("x", (p.left + p.right) / 2).attr("y", 74)
        .attr("text-anchor", "middle").attr("font-size", BIG)
        .text(p.title), p.titleWidth);
    }
    if (p.offset) {
      g.append("text")
        .attr("x", p.left).attr("y", 78)
        .attr("font-size", TICK)
        .text(p.offset);
    }
  }

  // numerator over denominator around a baseline at 0, starting at x0
  function addFraction(parent, x0, numParts, denText, small, sub, numY) {
    const num = parent.append("text")
      .attr("x", x0).attr("y", numY)
      .attr("font-style", "italic").attr("font-size", small);
    let shift = 0;
    numParts.forEach(([t, isSub]) => {
      const dy = isSub ? 6 : 0;
      num.append("tspan")
        .attr("dy", dy - shift)
        .attr("font-size", isSub ? sub : small)
        .attr("letter-spacing", isSub ? 2.5 : 1)
        .text(t);
      shift = dy;
    });
    const w = num.node().getComputedTextLength();
    parent.append("line")
      .attr("x1", x0 - 1).attr("x2", x0 + w + 1)
      .attr("y1", -10).attr("y2", -10)
      .attr("stroke", "#000").attr("stroke-width", 2.2);
    parent.append("text")
      .attr("x", x0 + w / 2).attr("y", 10)
      .attr("text-anchor", "middle")
      .attr("font-style", "italic").attr("font-size", small)
      .text(denText);
    return w + 2;
  }

  // turn a horizontally laid out group to read bottom to top, centred on centerY, spanning length
  function placeRotated(group, baseX, centerY, length) {
    const b = group.node().getBBox();
    const k = length / b.width;
    group.attr("transform",
      `translate(${baseX},${centerY + k * (b.x + b.width / 2)}) rotate(-90) scale(${k})`);
  }

  const snParts = [["Sn", 0], ["i", 1], ["p", 0], ["total", 1]];

  // panel 1
  const p1 = { left: 125, right: 691 };
  drawPanel({
    left: p1.left, right: p1.right,
    yDomain: [-0.078, 1.701],
    yTicks: ratioTicks, yFormat: d3.format(".1f"),
    runs: ratioRuns, offset: "1e\u22125",
    after: (g, x, y) => {
      g.append("line")
        .attr("x1", x(0)).attr("x2", x(5000))
        .attr("y1", y(ratioUpperRef)).attr("y2", y(ratioUpperRef))
        .attr("stroke", "#000").attr("stroke-width", 2.4)
        .attr("stroke-dasharray", "14,3.5,2.4,3.5");
      g.append("line")
        .attr("x1", x(0)).attr("x2", x(5000))
        .attr("y1", y(ratioLowerRef)).attr("y2", y(ratioLowerRef))
        .attr("stroke", "#000").attr("stroke-width", 2.4)
        .attr("stroke-dasharray", "8.5,3.5");
    },
  });

  // panel 1 title: fraction followed by Evolution
  const t1 = svg.append("g");
  const t1w = addFraction(t1, 0, snParts, "u", 27, 20, -25);
  fitText(t1.append("text").attr("x", t1w + 16).attr("y", 0).attr("font-size", BIG).text("Evolution"), 172);
  const t1b = t1.node().getBBox();
  t1.attr("transform", `translate(${(p1.left + p1.right) / 2 - (t1b.x + t1b.width / 2)},70)`);

  // panel 1 y label
  const yl1 = svg.append("g");
  const yl1w = addFraction(yl1, 0, snParts, "u", 27, 20, -24);
  const yl1t = yl1.append("text").attr("x", yl1w + 20).attr("y", 0)
    .attr("font-size", 42).attr("letter-spacing", 5);
  yl1t.append("tspan").text("(");
  yl1t.append("tspan").attr("font-style", "italic").text("\u03bcL");
  yl1t.append("tspan").text(")");
  placeRotated(yl1, 68, 290, 217);

  // colorbar
  const cbX = 727, cbW = 22;
  const grad = svg.append("defs").append("linearGradient")
    .attr("id", "plasma-grad").attr("x1", 0).attr("y1", 1).attr("x2", 0).attr("y2", 0);
  d3.range(0, 1.0001, 0.05).forEach((t) => {
    grad.append("stop").attr("offset", t).attr("stop-color", d3.interpolatePlasma(t));
  });
  svg.append("rect")
    .attr("x", cbX).attr("y", TOP).attr("width", cbW).attr("height", BOTTOM - TOP)
    .attr("fill", "url(#plasma-grad)").attr("stroke", "#000").attr("stroke-width", 1.1);
  const cy = d3.scaleLinear().domain([0, 10]).range([BOTTOM, TOP]);
  const ca = svg.append("g")
    .attr("transform", `translate(${cbX + cbW},0)`)
    .call(d3.axisRight(cy).tickValues(colorbarTicks).tickFormat(d3.format("d")).tickSize(5).tickPadding(4));
  styleAxis(ca);
  fitText(svg.append("text")
    .attr("transform", "translate(803,292) rotate(-90)")
    .attr("text-anchor", "middle").attr("font-size", 20)
    .text("Number of Genotypes per Testing Environment"), 420);

  // panel 2
  drawPanel({
    left: 948, right: 1655,
    yDomain: [-0.356, 9.606],
    yTicks: rateTicks, yFormat: d3.format("d"),
    runs: rateRuns, offset: "1e\u22129",
    title: "Total Production Rate Evolution", titleWidth: 582,
  });
  const yl2 = svg.append("g");
  const prod = yl2.append("text").attr("x", 0).attr("y", 0).attr("font-size", 44).text("Production Rate");
  let cx = prod.node().getComputedTextLength() + 10;
  const lp = yl2.append("text").attr("x", cx).attr("y", 7).attr("font-size", 60).text("(");
  cx += lp.node().getComputedTextLength() + 1;
  cx += addFraction(yl2, cx, [["\u03bcM", 0]], "s", 30, 21, -19) + 1;
  yl2.append("text").attr("x", cx).attr("y", 7).attr("font-size", 60).text(")");
  placeRotated(yl2, 898, 294, 385);

  // panel 3
  drawPanel({
    left: 1771, right: 2478,
    yDomain: [-0.0276, 0.6158],
    yTicks: thresholdTicks, yFormat: d3.format(".1f"),
    runs: thresholdRuns,
    title: "Signaling Threshold Evolution", titleWidth: 538,
  });
  const yl3 = svg.append("text")
    .attr("transform", "translate(1719,294) rotate(-90)")
    .attr("text-anchor", "middle").attr("font-size", 44);
  yl3.append("tspan").text("Signaling Threshold (");
  yl3.append("tspan").attr("font-style", "italic").text("\u03bcM");
  yl3.append("tspan").text(")");
  fitText(yl3, 453);
})();
</script>
</body>
</html>
